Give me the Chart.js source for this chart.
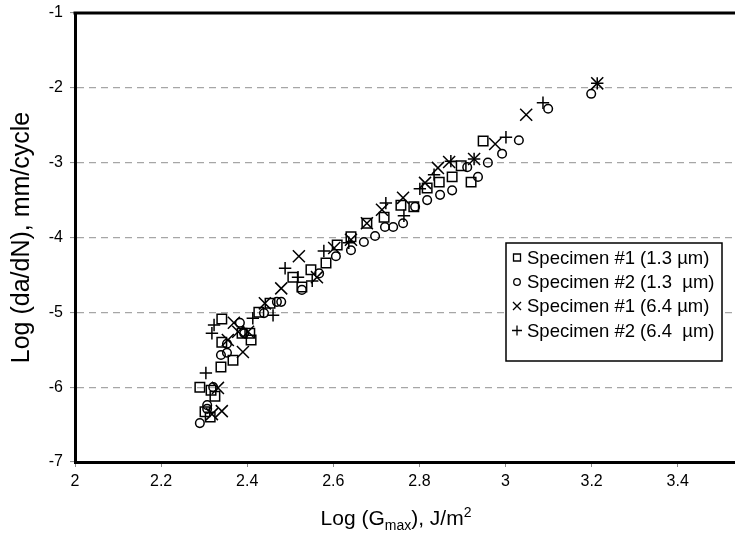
<!DOCTYPE html>
<html>
<head>
<meta charset="utf-8">
<script src="https://cdn.jsdelivr.net/npm/chart.js@4/dist/chart.umd.min.js"></script>
<style>
  html, body { margin: 0; padding: 0; background: #fff; }
  #wrap { width: 735px; height: 537px; }
</style>
</head>
<body>
<div id="wrap"><canvas id="c" width="735" height="537"></canvas></div>
<script>
// Axis ticks
const xTicks = [2, 2.2, 2.4, 2.6, 2.8, 3, 3.2, 3.4];
const yTicks = [-7, -6, -5, -4, -3, -2, -1];

// Legend labels
const seriesLabels = [
  'Specimen #1 (1.3 \u00b5m)',
  'Specimen #2 (1.3  \u00b5m)',
  'Specimen #1 (6.4 \u00b5m)',
  'Specimen #2 (6.4  \u00b5m)'
];

// [log Gmax, log da/dN] pairs per specimen
const spec1Fine = [
  [2.29, -6.00], [2.316, -6.04], [2.325, -6.12], [2.302, -6.33], [2.314, -6.40],
  [2.339, -5.73], [2.367, -5.64], [2.341, -5.40], [2.341, -5.09], [2.388, -5.28],
  [2.406, -5.28], [2.409, -5.37], [2.427, -5.00], [2.453, -4.88], [2.506, -4.53],
  [2.527, -4.66], [2.548, -4.43], [2.583, -4.34], [2.609, -4.10], [2.641, -3.99],
  [2.678, -3.81], [2.718, -3.73], [2.757, -3.57], [2.787, -3.59], [2.818, -3.34],
  [2.846, -3.26], [2.876, -3.19], [2.897, -3.04], [2.920, -3.26], [2.948, -2.71]
];
const spec2Fine = [
  [2.29, -6.48], [2.307, -6.24], [2.307, -6.29], [2.321, -6.00], [2.339, -5.57],
  [2.353, -5.54], [2.353, -5.42], [2.383, -5.14], [2.393, -5.28], [2.439, -5.01],
  [2.469, -4.86], [2.479, -4.86], [2.527, -4.70], [2.567, -4.48], [2.606, -4.25],
  [2.641, -4.17], [2.671, -4.06], [2.697, -3.98], [2.720, -3.86], [2.739, -3.86],
  [2.762, -3.81], [2.790, -3.59], [2.818, -3.50], [2.848, -3.43], [2.876, -3.37],
  [2.911, -3.06], [2.936, -3.19], [2.959, -3.00], [2.992, -2.88], [3.031, -2.70],
  [3.099, -2.28], [3.199, -2.08]
];
const spec1Coarse = [
  [2.332, -6.01], [2.318, -6.36], [2.341, -6.32], [2.390, -5.53], [2.355, -5.37],
  [2.369, -5.14], [2.379, -5.26], [2.402, -5.26], [2.441, -4.88], [2.479, -4.68],
  [2.520, -4.25], [2.562, -4.53], [2.602, -4.14], [2.641, -4.03], [2.678, -3.81],
  [2.713, -3.63], [2.762, -3.47], [2.813, -3.27], [2.843, -3.07], [2.869, -2.99],
  [2.927, -2.95], [2.976, -2.75], [3.048, -2.36], [3.213, -1.94]
];
const spec2Coarse = [
  [2.304, -5.81], [2.318, -5.28], [2.323, -5.17], [2.413, -5.08], [2.460, -5.04],
  [2.488, -4.41], [2.518, -4.53], [2.551, -4.58], [2.578, -4.18], [2.636, -4.07],
  [2.722, -3.54], [2.764, -3.71], [2.801, -3.35], [2.834, -3.16], [2.873, -2.98],
  [2.927, -2.95], [3.001, -2.66], [3.087, -2.20], [3.213, -1.94]
];

const FONT = '"Liberation Sans", Arial, Helvetica, sans-serif';
const INK = '#000';

const styles = [
  { pointStyle: 'rect', radius: 6.7 },
  { pointStyle: 'circle', radius: 4.3 },
  { pointStyle: 'crossRot', radius: 8.5 },
  { pointStyle: 'cross', radius: 6.2 }
];
const seriesData = [spec1Fine, spec2Fine, spec1Coarse, spec2Coarse];

const datasets = seriesData.map((arr, i) => ({
  label: seriesLabels[i],
  data: arr.map(p => ({ x: p[0], y: p[1] })),
  pointStyle: styles[i].pointStyle,
  pointRadius: styles[i].radius,
  pointBorderColor: INK,
  pointBackgroundColor: 'transparent',
  pointBorderWidth: 1.5,
  showLine: false
}));

// Frame top edge, x-axis title with sub/superscript, and boxed legend
const decorations = {
  id: 'decorations',
  afterDraw(chart) {
    const ctx = chart.ctx;
    const a = chart.chartArea;
    ctx.save();

    // top edge of the frame
    ctx.strokeStyle = INK;
    ctx.lineWidth = 3;
    ctx.beginPath();
    ctx.moveTo(a.left - 1.5, a.top);
    ctx.lineTo(chart.width, a.top);
    ctx.stroke();

    // x-axis title: Log (G_max), J/m^2
    const big = '21px ' + FONT, small = '14px ' + FONT;
    const parts = [
      { t: 'Log (G', f: big, dy: 0 },
      { t: 'max', f: small, dy: 5 },
      { t: '), J/m', f: big, dy: 0 },
      { t: '2', f: small, dy: -8 }
    ];
    let total = 0;
    parts.forEach(p => { ctx.font = p.f; p.w = ctx.measureText(p.t).width; total += p.w; });
    let x = 396 - total / 2;
    const base = 525;
    ctx.fillStyle = INK;
    ctx.textBaseline = 'alphabetic';
    ctx.textAlign = 'left';
    parts.forEach(p => { ctx.font = p.f; ctx.fillText(p.t, x, base + p.dy); x += p.w; });

    // legend box
    const bx = 506, by = 243, bw = 216, bh = 118;
    ctx.fillStyle = '#fff';
    ctx.fillRect(bx, by, bw, bh);
    ctx.lineWidth = 1.5;
    ctx.strokeStyle = INK;
    ctx.strokeRect(bx, by, bw, bh);

    const rowY = [257.5, 282, 306, 330.5];
    ctx.font = '18.5px ' + FONT;
    ctx.textBaseline = 'middle';
    seriesLabels.forEach((lab, i) => {
      const cy = rowY[i], cx = 517;
      ctx.lineWidth = 1.3;
      ctx.beginPath();
      if (i === 0) { ctx.rect(cx - 3.5, cy - 3.5, 7, 7); }
      else if (i === 1) { ctx.arc(cx, cy, 3.3, 0, Math.PI * 2); }
      else if (i === 2) { ctx.moveTo(cx - 4, cy - 4); ctx.lineTo(cx + 4, cy + 4); ctx.moveTo(cx + 4, cy - 4); ctx.lineTo(cx - 4, cy + 4); }
      else { ctx.moveTo(cx - 5, cy); ctx.lineTo(cx + 5, cy); ctx.moveTo(cx, cy - 5); ctx.lineTo(cx, cy + 5); }
      ctx.stroke();
      ctx.fillStyle = INK;
      ctx.fillText(lab, 527, cy + 1);
    });
    ctx.restore();
  }
};

new Chart(document.getElementById('c'), {
  type: 'scatter',
  data: { datasets },
  plugins: [decorations],
  options: {
    responsive: false,
    animation: false,
    devicePixelRatio: 1,
    layout: { autoPadding: false, padding: { top: 13, right: 0, bottom: 0, left: 0 } },
    plugins: { legend: { display: false }, tooltip: { enabled: false } },
    scales: {
      x: {
        type: 'linear',
        min: 2,
        max: 3.533,
        afterBuildTicks: s => { s.ticks = xTicks.map(v => ({ value: v })); },
        afterFit: s => { s.height = 75; s.paddingLeft = 0; s.paddingRight = 0; },
        ticks: { color: INK, font: { family: FONT, size: 16 }, padding: 5, maxRotation: 0, callback: v => String(v) },
        grid: { display: true, drawOnChartArea: false, color: 'transparent', tickColor: '#888', tickLength: 5, tickWidth: 1 },
        border: { display: true, color: INK, width: 3 }
      },
      y: {
        type: 'linear',
        min: -7,
        max: -1,
        afterBuildTicks: s => { s.ticks = yTicks.map(v => ({ value: v })); },
        afterFit: s => { s.width = 75; s.paddingTop = 0; s.paddingBottom = 0; },
        ticks: { color: INK, font: { family: FONT, size: 16 }, padding: 7, callback: v => String(v) },
        grid: {
          display: true,
          color: c => (c.tick && (c.tick.value === -7 || c.tick.value === -1)) ? 'transparent' : '#a6a6a6',
          lineWidth: 1.2,
          tickColor: '#888',
          tickLength: 5,
          tickWidth: 1
        },
        border: { display: true, color: INK, width: 3, dash: [7, 5] },
        title: { display: true, text: 'Log (da/dN), mm/cycle', color: INK, font: { family: FONT, size: 25 }, padding: { top: 7, bottom: 0 } }
      }
    }
  }
});
</script>
</body>
</html>
